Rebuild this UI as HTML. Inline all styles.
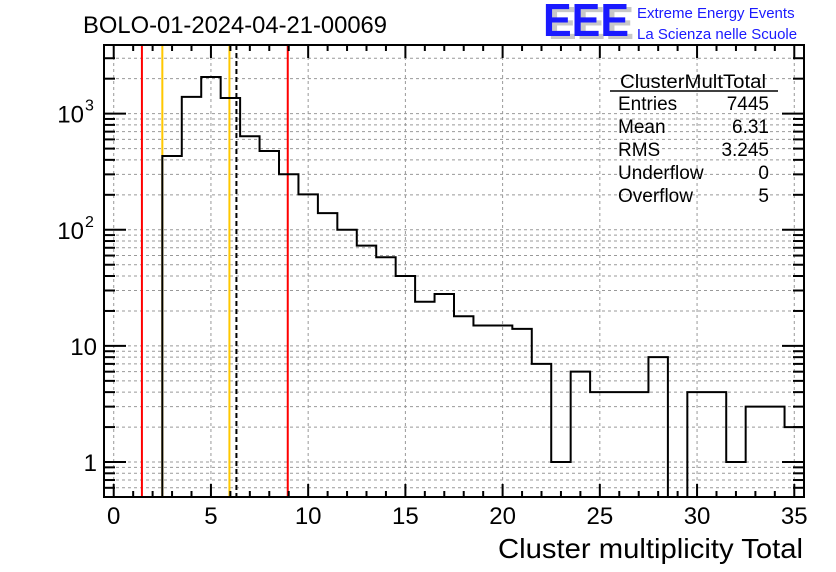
<!DOCTYPE html>
<html><head><meta charset="utf-8"><style>
html,body{margin:0;padding:0;background:#fff}
svg{display:block;font-family:"Liberation Sans",Arial,sans-serif}
</style></head><body>
<svg id="c" width="836" height="572" viewBox="0 0 836 572" xmlns="http://www.w3.org/2000/svg">
<rect width="836" height="572" fill="#fff"/>
<text x="83" y="33" font-size="24" textLength="304" lengthAdjust="spacingAndGlyphs">BOLO-01-2024-04-21-00069</text>
<g>
<text x="548" y="39" font-size="46" font-weight="bold" fill="#c8c8c8" textLength="86" lengthAdjust="spacingAndGlyphs">EEE</text>
<text x="543" y="36" font-size="46" font-weight="bold" fill="#1a1aff" textLength="86" lengthAdjust="spacingAndGlyphs">EEE</text>
<text x="637" y="18" font-size="15" fill="#1a1aff">Extreme Energy Events</text>
<text x="637" y="39" font-size="15" fill="#1a1aff">La Scienza nelle Scuole</text>
</g>
<g id="grid"></g>
<g id="marks"></g>
<g id="axes"></g>
<g font-size="19">
<text x="693" y="88" text-anchor="middle" textLength="146" lengthAdjust="spacingAndGlyphs">ClusterMultTotal</text>
<line x1="610" y1="91" x2="778" y2="91" stroke="#000" stroke-width="1.5"/>
<text x="618" y="110">Entries</text><text x="769" y="110" text-anchor="end">7445</text>
<text x="618" y="133">Mean</text><text x="769" y="133" text-anchor="end">6.31</text>
<text x="618" y="156">RMS</text><text x="769" y="156" text-anchor="end">3.245</text>
<text x="618" y="179">Underflow</text><text x="769" y="179" text-anchor="end">0</text>
<text x="618" y="202">Overflow</text><text x="769" y="202" text-anchor="end">5</text>
</g>
<text x="803" y="558" font-size="28" text-anchor="end" textLength="305" lengthAdjust="spacingAndGlyphs">Cluster multiplicity Total</text>
</svg>
<script>
const binCenters=[3,4,5,6,7,8,9,10,11,12,13,14,15,16,17,18,19,20,21,22,23,24,25,26,27,28,29,30,31,32,33,34,35];
const binCounts=[432,1393,2070,1365,639,477,301,202,139,100,73,58,40,24,28,18,15,15,14,7,1,6,4,4,4,8,0,4,4,1,3,3,2];
const xTicks=[0,5,10,15,20,25,30,35];
const yDecades=[1,10,100,1000];
const yTickBase=["1","10","10","10"];
const yTickExp=["","","2","3"];
const redLines=[1.45,8.95];
const goldLines=[2.5,5.95];
const meanLine=[6.31];

const L=104,R=804,T=45,B=497,xmin=-0.5,xmax=35.5,ymin=0.5,ymax=3900;
const X=v=>L+(v-xmin)/(xmax-xmin)*(R-L);
const Y=v=>B-(Math.log10(v)-Math.log10(ymin))/(Math.log10(ymax)-Math.log10(ymin))*(B-T);
const NS="http://www.w3.org/2000/svg";
function mk(tag,attrs,parent){const e=document.createElementNS(NS,tag);for(const k in attrs)e.setAttribute(k,attrs[k]);parent.appendChild(e);return e;}
const grid=document.getElementById('grid'),marks=document.getElementById('marks'),axes=document.getElementById('axes');
xTicks.forEach(t=>{const g=mk('line',{x1:X(t),x2:X(t),y1:T,y2:B,stroke:'#999','stroke-dasharray':'3,3','stroke-width':1},grid);

});
const yMinor=[];
[0.1,1,10,100,1000].forEach(d=>{for(let m=1;m<10;m++){const v=d*m;if(v>=ymin&&v<=ymax)yMinor.push(v);}});
yMinor.forEach(v=>{const g=mk('line',{x1:L,x2:R,y1:Y(v),y2:Y(v),stroke:'#999','stroke-dasharray':'3,3','stroke-width':1},grid);

});
redLines.forEach(v=>{const l=mk('line',{x1:X(v),x2:X(v),y1:T,y2:B,stroke:'#f00','stroke-width':2},marks);

});
goldLines.forEach(v=>{const l=mk('line',{x1:X(v),x2:X(v),y1:T,y2:B,stroke:'#ffc800','stroke-width':2},marks);

});
let d='';let first=true;
binCenters.forEach((c,i)=>{const v=binCounts[i];const y=v>0?Y(v):B;const x0=X(c-0.5),x1=X(Math.min(c+0.5,xmax));
if(first){d+=`M${x0},${B}L${x0},${y}`;first=false;}else d+=`L${x0},${y}`;d+=`L${x1},${y}`;});
const h=mk('path',{d:d,fill:'none',stroke:'#000','stroke-width':2},marks);


meanLine.forEach(v=>{const l=mk('line',{x1:X(v),x2:X(v),y1:T,y2:B,stroke:'#000','stroke-width':2,'stroke-dasharray':'5,3'},marks);

});
const f=mk('rect',{x:L,y:T,width:R-L,height:B-T,fill:'none',stroke:'#000','stroke-width':2},axes);


for(let t=0;t<=35;t++){const maj=t%5===0;const len=maj?13:6;
mk('line',{x1:X(t),x2:X(t),y1:B,y2:B-len,stroke:'#000','stroke-width':2},axes);
mk('line',{x1:X(t),x2:X(t),y1:T,y2:T+len,stroke:'#000','stroke-width':2},axes);}
xTicks.forEach(t=>{const tx=mk('text',{x:X(t),y:524,'font-size':24,'text-anchor':'middle'},axes);tx.textContent=t;

});
yMinor.forEach(v=>{const maj=yDecades.includes(v);const len=maj?22:11;
mk('line',{x1:L,x2:L+len,y1:Y(v),y2:Y(v),stroke:'#000','stroke-width':2},axes);
mk('line',{x1:R,x2:R-len,y1:Y(v),y2:Y(v),stroke:'#000','stroke-width':2},axes);});
yDecades.forEach((v,i)=>{const hasExp=yTickExp[i]!=='';
const tx=mk('text',{x:hasExp?84:97,y:Y(v)+9,'font-size':24,'text-anchor':'end'},axes);tx.textContent=yTickBase[i];


if(hasExp){const ex=mk('text',{x:85,y:Y(v)-3,'font-size':16},axes);ex.textContent=yTickExp[i];

}});
</script>
</body></html>
